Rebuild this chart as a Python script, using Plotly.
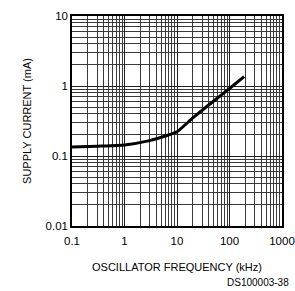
import plotly.graph_objects as go

freq_khz = [0.1, 0.3, 1, 3, 6, 10, 20, 50, 100, 190]
supply_ma = [0.134, 0.138, 0.144, 0.166, 0.193, 0.222, 0.35, 0.61, 0.92, 1.36]

x_ticks = [0.1, 1, 10, 100, 1000]
x_tick_text = ["0.1", "1", "10", "100", "1000"]
y_ticks = [0.01, 0.1, 1, 10]
y_tick_text = ["0.01", "0.1", "1", "10"]

font_title = "Liberation Sans, Arial, sans-serif"

fig = go.Figure()
fig.add_trace(go.Scatter(x=freq_khz, y=supply_ma, mode="lines",
                         line=dict(color="black", width=3, shape="spline", smoothing=0.5),
                         showlegend=False, hoverinfo="skip"))

axis_common = dict(
    showline=True, linecolor="black", linewidth=1.5, mirror=True,
    showgrid=True, gridcolor="#222", gridwidth=1,
    ticks="", zeroline=False, automargin=False, ticklabeloverflow="allow",
    tickfont=dict(family="Liberation Sans, Arial, sans-serif", size=11.5, color="black"),
    minor=dict(dtick="D1", showgrid=True, gridcolor="#3a3a3a", gridwidth=1, ticks=""),
)

fig.update_xaxes(type="log", range=[-1, 3], tickvals=x_ticks, ticktext=x_tick_text,
                 ticklabelstandoff=3,
                 title=dict(text="OSCILLATOR FREQUENCY (kHz)", standoff=18,
                            font=dict(family=font_title, size=11, color="black")),
                 **axis_common)
fig.update_yaxes(type="log", range=[-2, 1], tickvals=y_ticks, ticktext=y_tick_text,
                 title=dict(text="SUPPLY CURRENT (mA)", standoff=12,
                            font=dict(family=font_title, size=11, color="black")),
                 **axis_common)

fig.add_annotation(text="DS100003-38", xref="paper", yref="paper", x=1.045, y=-0.27,
                   xanchor="right", yanchor="middle", showarrow=False,
                   font=dict(family="Liberation Sans, Arial, sans-serif", size=10, color="black"))

fig.update_layout(width=295, height=291, margin=dict(l=72, r=13, t=16, b=65),
                  paper_bgcolor="white", plot_bgcolor="white")

fig.write_html("out.html", config={"displayModeBar": False},
               post_script="document.body.style.margin='0';")
